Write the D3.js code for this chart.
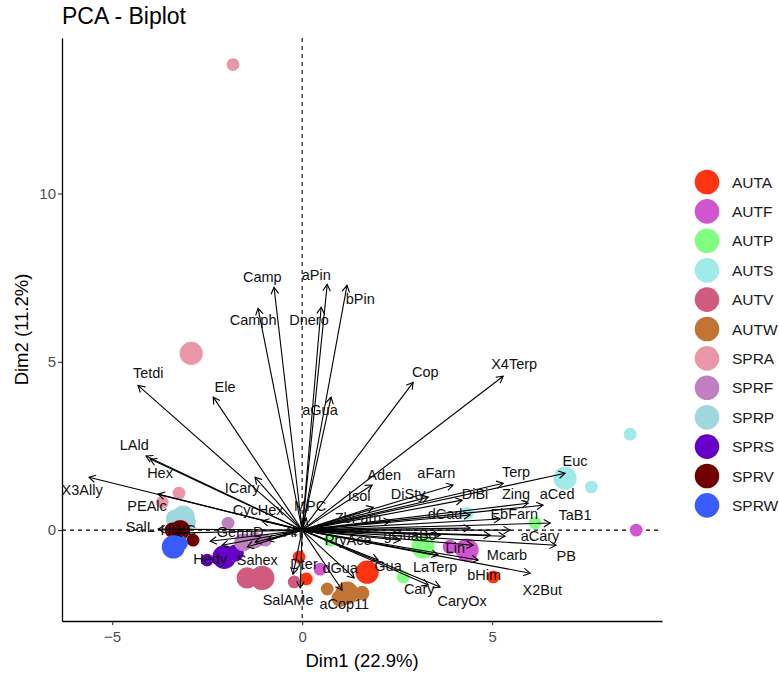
<!DOCTYPE html>
<html lang="en">
<head>
  <meta charset="UTF-8">
  <title>PCA - Biplot</title>
  <style>
    body { margin: 0; background: #fff; }
    svg text { font-family: "Liberation Sans", Arial, sans-serif; }
  </style>
</head>
<body>
  <svg id="chart"></svg>
  <script src="https://cdnjs.cloudflare.com/ajax/libs/d3/7.8.5/d3.min.js"></script>
  <script>
    // groups (legend)
    var groups = ["AUTA", "AUTF", "AUTP", "AUTS", "AUTV", "AUTW", "SPRA", "SPRF", "SPRP", "SPRS", "SPRV", "SPRW"];
    var groupColors = ["#ff3311", "#d055d0", "#80ff80", "#a0eaea", "#d05a80", "#c07535",
                       "#e896a8", "#c080c0", "#a0d6de", "#6600c8", "#700000", "#3a5cff"];

    // individuals
    var ptGroup = ["SPRA", "SPRA", "SPRA", "SPRA",
                   "SPRP", "SPRP", "SPRP",
                   "SPRV", "SPRV", "SPRV",
                   "SPRW", "SPRW",
                   "SPRS", "SPRS", "SPRS",
                   "SPRF", "SPRF", "SPRF", "SPRF",
                   "AUTV", "AUTV", "AUTV",
                   "AUTA", "AUTA", "AUTA", "AUTA",
                   "AUTF", "AUTF", "AUTF", "AUTF",
                   "AUTP", "AUTP", "AUTP", "AUTP",
                   "AUTS", "AUTS", "AUTS", "AUTS",
                   "AUTW", "AUTW", "AUTW", "AUTW"];
    var ptX = [-1.82, -2.92, -3.24, -3.68,
               -3.13, -3.34, -3.0,
               -3.21, -2.87, -3.42,
               -3.39, -3.21,
               -2.05, -2.5, -1.76,
               -1.95, -1.55, -1.24, -0.97,
               -1.05, -1.45, -0.21,
               -0.08, 0.11, 1.71, 5.03,
               0.47, 3.89, 4.34, 8.79,
               0.74, 2.66, 3.18, 6.13,
               6.92, 7.61, 8.63, 4.34,
               0.66, 1.18, 1.58, 1.0];
    var ptY = [13.83, 5.25, 1.10, 0.83,
               0.39, 0.33, 0.24,
               0.0, -0.30, 0.0,
               -0.50, -0.39,
               -0.80, -0.89, -0.68,
               0.21, -0.36, -0.30, -0.30,
               -1.42, -1.42, -1.54,
               -0.80, -1.45, -1.25, -1.39,
               -1.16, -0.50, -0.59, 0.0,
               -0.30, -1.39, -0.50, 0.21,
               1.54, 1.28, 2.85, 0.50,
               -1.75, -1.87, -1.87, -2.02];
    var ptSize = [1.1, 3.6, 1.1, 1.1,
                  3.6, 2.4, 1.6,
                  2.8, 1.1, 1.6,
                  3.6, 1.6,
                  3.8, 1.1, 2.0,
                  1.1, 2.2, 1.8, 1.1,
                  4.0, 3.0, 1.1,
                  1.1, 1.1, 3.6, 1.1,
                  1.1, 1.4, 3.6, 1.1,
                  1.1, 1.1, 3.6, 1.1,
                  3.6, 1.1, 1.1, 1.1,
                  1.1, 3.6, 1.4, 2.0];

    // variables (arrow tips and label spots)
    var varNames = ["Camp", "Camph", "aPin", "Dnero", "bPin", "aGua", "Tetdi", "Ele", "Cop", "X4Terp",
                    "LAld", "Hex", "X3Ally", "PEAlc", "SalL", "HDIC", "GermD", "Hedy", "Sahex", "CycHex",
                    "ICary", "MPC", "ArI", "Dter", "SalAMe", "dGua", "aCop11", "Gua", "Cary", "CaryOx",
                    "LaTerp", "Lin", "Mcarb", "X2But", "bHim", "PB", "aCary", "TaB1", "EbFarn", "Zing",
                    "aCed", "Terp", "Euc", "aFarn", "DiSty", "DiBi", "Aden", "Isol", "ZbFarn", "dCad",
                    "PryAce", "gGuaBo", "", "", "", ""];
    var varX = [-0.74, -1.16, 0.66, 0.50, 1.18, 0.76, -4.32, -2.34, 2.92, 5.29,
                -4.11, -4.0, -5.61, -3.79, -3.79, -3.34, -2.42, -2.11, -1.45, -1.05,
                -1.24, 0.11, -0.32, -0.24, -0.05, 1.37, 1.05, 2.0, 3.32, 3.63,
                3.58, 4.50, 4.95, 6.0, 4.63, 6.68, 5.34, 6.53, 5.21, 5.95,
                6.34, 5.29, 6.92, 3.97, 3.32, 4.21, 1.84, 1.87, 2.32, 4.42,
                2.58, 3.63, 5.47, 4.42, -1.24, -0.92];
    var varY = [7.21, 6.59, 7.30, 6.62, 7.27, 3.95, 4.30, 3.95, 4.39, 4.57,
                2.20, 2.11, 1.57, 1.07, 0.03, -0.09, -0.33, -0.45, -0.50, 0.27,
                1.57, 0.36, -0.09, -1.31, -1.72, -1.42, -1.78, -0.89, -1.63, -1.69,
                -0.74, -0.45, -0.15, -1.28, -0.89, -0.45, -0.18, 0.21, 0.33, 0.80,
                0.74, 1.39, 1.69, 1.34, 0.98, 0.89, 1.34, 0.68, 0.27, 0.45,
                -0.30, -0.15, 0.0, 0.06, -0.36, -0.30];
    var varLabX = [-1.05, -1.29, 0.37, 0.18, 1.53, 0.47, -4.05, -2.03, 3.24, 5.58,
                   -4.42, -3.74, -5.79, -4.08, -4.26, -3.26, -1.63, -2.42, -1.18, -1.16,
                   -1.58, 0.21, -0.24, 0.05, -0.37, 1.0, 1.11, 2.26, 3.08, 4.21,
                   3.50, 4.03, 5.39, 6.32, 4.79, 6.95, 6.26, 7.18, 5.58, 5.63,
                   6.71, 5.63, 7.18, 3.53, 2.79, 4.55, 2.16, 1.5, 1.47, 3.76,
                   1.21, 2.84, 0, 0, 0, 0];
    var varLabY = [7.51, 6.23, 7.57, 6.23, 6.88, 3.56, 4.66, 4.24, 4.69, 4.93,
                   2.52, 1.69, 1.19, 0.71, 0.09, 0.0, -0.06, -0.86, -0.89, 0.59,
                   1.25, 0.71, -0.06, -1.01, -2.08, -1.13, -2.20, -1.07, -1.75, -2.11,
                   -1.10, -0.53, -0.74, -1.78, -1.34, -0.77, -0.18, 0.45, 0.47, 1.07,
                   1.07, 1.72, 2.05, 1.69, 1.07, 1.07, 1.63, 1.01, 0.36, 0.47,
                   -0.30, -0.15, 0, 0, 0, 0];

    var xTicks = [-5, 0, 5];
    var yTicks = [0, 5, 10];

    var svgWidth = 779, svgHeight = 675;
    var padLeft = 62, padRight = 662, padTop = 38, padBottom = 621;

    var svg = d3.select('#chart')
      .attr('width', svgWidth)
      .attr('height', svgHeight);

    var x = d3.scaleLinear().domain([-6.32, 9.47]).range([padLeft, padRight]);
    var y = d3.scaleLinear().domain([-2.70, 14.62]).range([padBottom, padTop]);
    var r = d3.scaleSqrt().domain([0, 4]).range([0, 12.2]);
    var color = d3.scaleOrdinal().domain(groups).range(groupColors);

    // dashed reference lines
    svg.append('line')
      .attr('x1', padLeft).attr('x2', padRight)
      .attr('y1', y(0)).attr('y2', y(0))
      .attr('stroke', '#000').attr('stroke-width', 1.1)
      .attr('stroke-dasharray', '4,4');
    svg.append('line')
      .attr('x1', x(0)).attr('x2', x(0))
      .attr('y1', padTop).attr('y2', padBottom)
      .attr('stroke', '#000').attr('stroke-width', 1.1)
      .attr('stroke-dasharray', '4,4');

    // individuals
    var points = d3.range(ptX.length);
    svg.append('g').selectAll('circle')
      .data(points)
      .enter()
      .append('circle')
      .attr('cx', i => x(ptX[i]))
      .attr('cy', i => y(ptY[i]))
      .attr('r', i => r(ptSize[i]))
      .attr('fill', i => color(ptGroup[i]));

    // variable arrows
    var vars = d3.range(varNames.length);
    var arrows = svg.append('g')
      .attr('stroke', '#000')
      .attr('stroke-width', 1.1)
      .attr('fill', 'none');

    arrows.selectAll('line')
      .data(vars)
      .enter()
      .append('line')
      .attr('x1', x(0)).attr('y1', y(0))
      .attr('x2', i => x(varX[i]))
      .attr('y2', i => y(varY[i]));

    arrows.selectAll('path')
      .data(vars)
      .enter()
      .append('path')
      .attr('d', function (i) {
        var tx = x(varX[i]), ty = y(varY[i]);
        var a = Math.atan2(ty - y(0), tx - x(0));
        var len = 7.5, spread = Math.PI / 6;
        var p1 = [tx - len * Math.cos(a - spread), ty - len * Math.sin(a - spread)];
        var p2 = [tx - len * Math.cos(a + spread), ty - len * Math.sin(a + spread)];
        return 'M' + p1 + 'L' + [tx, ty] + 'L' + p2;
      });

    svg.append('g').selectAll('text')
      .data(vars.filter(i => varNames[i] !== ''))
      .enter()
      .append('text')
      .attr('x', i => x(varLabX[i]))
      .attr('y', i => y(varLabY[i]))
      .attr('text-anchor', 'middle')
      .attr('dominant-baseline', 'central')
      .attr('font-size', '14.5px')
      .attr('fill', '#111')
      .text(i => varNames[i]);

    // axes
    var xAxis = svg.append('g')
      .attr('transform', 'translate(0,' + padBottom + ')')
      .call(d3.axisBottom(x).tickValues(xTicks).tickSize(4).tickSizeOuter(0));
    var yAxis = svg.append('g')
      .attr('transform', 'translate(' + padLeft + ',0)')
      .call(d3.axisLeft(y).tickValues(yTicks).tickSize(4).tickSizeOuter(0));

    [xAxis, yAxis].forEach(function (ax) {
      ax.select('.domain').attr('stroke', '#000').attr('stroke-width', 1.3);
      ax.selectAll('.tick line').attr('stroke', '#333').attr('stroke-width', 1.1);
      ax.selectAll('.tick text')
        .attr('fill', '#4d4d4d')
        .attr('font-size', '15px')
        .attr('font-family', '"Liberation Sans", Arial, sans-serif');
    });
    xAxis.selectAll('.tick text').attr('dy', '0.95em');
    yAxis.selectAll('.tick text').attr('x', -6);

    // titles
    svg.append('text')
      .attr('x', padLeft)
      .attr('y', 24)
      .attr('font-size', '23px')
      .attr('fill', '#000')
      .text('PCA - Biplot');

    svg.append('text')
      .attr('x', (padLeft + padRight) / 2)
      .attr('y', 667)
      .attr('text-anchor', 'middle')
      .attr('font-size', '18.5px')
      .attr('fill', '#000')
      .text('Dim1 (22.9%)');

    svg.append('text')
      .attr('transform', 'translate(28,' + ((padTop + padBottom) / 2) + ') rotate(-90)')
      .attr('text-anchor', 'middle')
      .attr('font-size', '18.5px')
      .attr('fill', '#000')
      .text('Dim2 (11.2%)');

    // legend
    var legend = svg.append('g')
      .selectAll('g')
      .data(groups)
      .enter()
      .append('g')
      .attr('transform', (d, i) => 'translate(707,' + (182 + i * 29.4) + ')');

    legend.append('circle')
      .attr('r', 12.3)
      .attr('fill', d => color(d));

    legend.append('text')
      .attr('x', 25)
      .attr('dominant-baseline', 'central')
      .attr('font-size', '15.5px')
      .attr('fill', '#1a1a1a')
      .text(d => d);
  </script>
</body>
</html>
